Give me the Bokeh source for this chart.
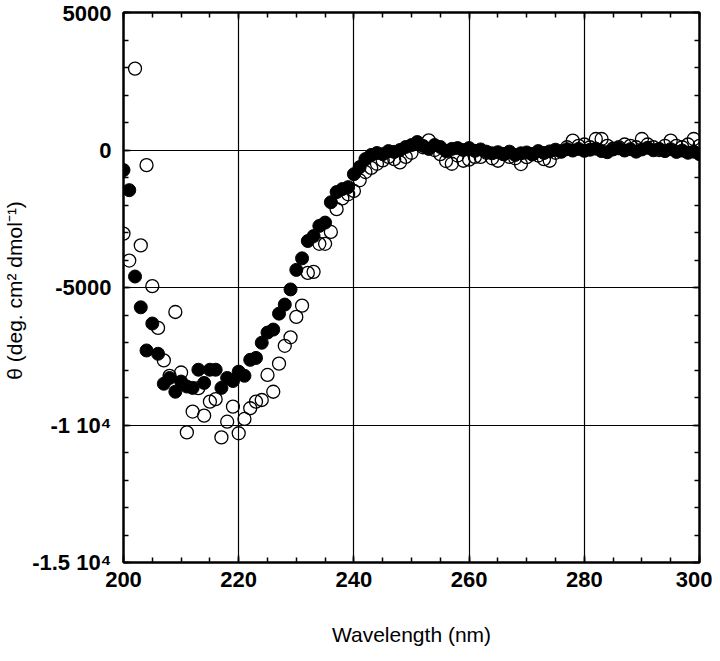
from bokeh.plotting import figure
from bokeh.models import LinearAxis, FixedTicker, Range1d, ColumnDataSource
from bokeh.embed import file_html
from bokeh.resources import INLINE

# wavelength grid (nm), 1 nm steps
wavelength = list(range(200, 301))

# filled circles
theta_filled = [
    -730, -1460, -4600, -5720, -7290, -6310, -7410, -8500, -8290, -8790,
    -8420, -8600, -8650, -7990, -8470, -7990, -7990, -8650, -8290, -8400,
    -8060, -8210, -7630, -7560, -7010, -6640, -6530, -5950, -5620, -5070,
    -4360, -3940, -3310, -3130, -2760, -2640, -1900, -1530, -1420, -1350,
    -880, -620, -330, -180, -110, -150, -40, -70, 0, 110,
    180, 290, 150, 40, 180, 110, -40, 40, 70, 0,
    70, -30, 20, -60, -120, -80, -150, -60, -180, -120,
    -90, -160, -40, -110, -50, 10, -60, 30, -20, 40,
    -30, 10, 50, -40, -80, 20, 60, -20, 30, -60,
    20, 80, -10, 40, -40, 30, -70, -20, -100, -60,
    -150,
]

# open circles
theta_open = [
    -3040, -4020, 2960, -3470, -550, -4950, -6470, -7650, -8210, -5890,
    -8090, -10270, -9510, -8660, -9660, -9150, -9060, -10450, -9880, -9330,
    -10300, -9780, -9390, -9150, -9090, -8180, -8790, -7770, -7120, -6810,
    -6070, -5660, -4470, -4430, -3410, -3410, -2980, -2150, -1760, -1610,
    -1490, -1100, -800, -650, -500, -380, -250, -330, -450, -250,
    -100, 250, 100, 350, 0, -150, -400, -500, -200, -390,
    -350, -250, -250, -100, -300, -390, -150, -250, -300, -510,
    -260, -150, -200, -330, -390, -100, -50, 100, 340, 150,
    200, 100, 400, 400, 150, 50, 100, 200, 150, 100,
    400, 200, 100, 0, 150, 340, 150, 100, 200, 400,
    150,
]

x_major = [200, 220, 240, 260, 280, 300]
x_minor = list(range(200, 301, 5))
x_grid = [220, 240, 260, 280]
y_major = [-15000, -10000, -5000, 0, 5000]
y_minor = list(range(-15000, 5001, 1000))
y_grid = [-10000, -5000, 0]
y_tick_labels = ["-1.5 10\u2074", "-1 10\u2074", "-5000", "0", "5000"]

FONT = "Liberation Sans"

p = figure(width=712, height=653, x_range=Range1d(200, 300), y_range=Range1d(-15000, 5000),
           output_backend="svg", toolbar_location=None,
           min_border_left=116, min_border_right=13, min_border_top=12, min_border_bottom=91)
p.outline_line_color = "black"
p.outline_line_width = 2
p.background_fill_color = "white"
p.border_fill_color = "white"

p.xgrid.ticker = FixedTicker(ticks=x_grid)
p.ygrid.ticker = FixedTicker(ticks=y_grid)
for g in (p.xgrid, p.ygrid):
    g.grid_line_color = "black"
    g.grid_line_width = 1.2
    g.grid_line_alpha = 1.0

def style_axis(ax, labels=True):
    ax.axis_line_color = "black"
    ax.axis_line_width = 2
    ax.major_tick_in = 7
    ax.major_tick_out = 0
    ax.minor_tick_in = 5
    ax.minor_tick_out = 0
    ax.major_tick_line_color = "black"
    ax.minor_tick_line_color = "black"
    ax.major_tick_line_width = 1.5
    ax.minor_tick_line_width = 1.5
    if labels:
        ax.major_label_text_font = FONT
        ax.major_label_text_font_style = "bold"
        ax.major_label_text_font_size = "22px"
        ax.major_label_text_color = "black"
        ax.axis_label_text_font = FONT
        ax.axis_label_text_font_style = "normal"
        ax.axis_label_text_font_size = "21px"
        ax.axis_label_text_color = "black"
    else:
        ax.major_label_text_font_size = "0px"
        ax.major_label_standoff = 0

xt = FixedTicker(ticks=x_major, minor_ticks=x_minor)
yt = FixedTicker(ticks=y_major, minor_ticks=y_minor)

p.xaxis.ticker = xt
p.yaxis.ticker = yt
p.yaxis.major_label_overrides = {v: s for v, s in zip(y_major, y_tick_labels)}
p.xaxis.axis_label = "Wavelength (nm)"
p.yaxis.axis_label = "\u03b8  (deg. cm\u00b2 dmol\u207b\u00b9)"
style_axis(p.xaxis[0])
style_axis(p.yaxis[0])
p.xaxis.major_label_standoff = 9
p.xaxis.axis_label_standoff = 33
p.yaxis.major_label_standoff = 12
p.yaxis.axis_label_standoff = 3

top = LinearAxis(ticker=FixedTicker(ticks=x_major, minor_ticks=x_minor))
style_axis(top, labels=False)
p.add_layout(top, "above")
right = LinearAxis(ticker=FixedTicker(ticks=y_major, minor_ticks=y_minor))
style_axis(right, labels=False)
p.add_layout(right, "right")

src = ColumnDataSource(dict(x=wavelength, f=theta_filled, o=theta_open))
p.scatter("x", "o", source=src, marker="circle", size=13, fill_color=None,
          line_color="black", line_width=1.3)
p.scatter("x", "f", source=src, marker="circle", size=13, fill_color="black",
          line_color="black", line_width=1)

open("out.html", "w").write(file_html(p, INLINE))
